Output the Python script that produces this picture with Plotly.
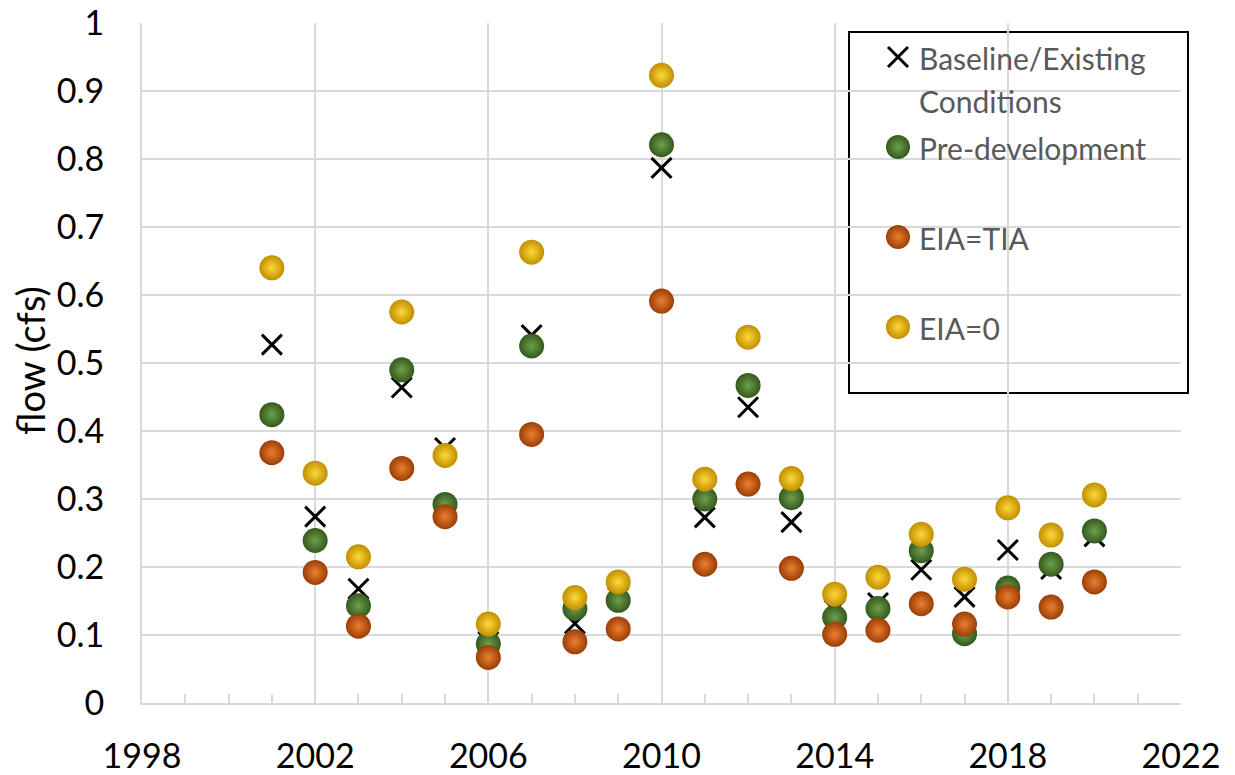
import plotly.graph_objects as go

# Annual values, 2001-2020
years = list(range(2001, 2021))

baseline = [0.527, 0.274, 0.168, 0.464, 0.375, 0.090, 0.541, 0.117, 0.155, 0.787,
            0.273, 0.435, 0.266, 0.137, 0.147, 0.196, 0.156, 0.225, 0.197, 0.245]
pre_development = [0.424, 0.239, 0.143, 0.490, 0.292, 0.087, 0.525, 0.139, 0.151, 0.821,
                   0.300, 0.467, 0.302, 0.126, 0.139, 0.224, 0.102, 0.169, 0.204, 0.253]
eia_tia = [0.368, 0.192, 0.113, 0.345, 0.274, 0.067, 0.395, 0.090, 0.109, 0.591,
           0.204, 0.322, 0.198, 0.101, 0.107, 0.146, 0.116, 0.156, 0.141, 0.178]
eia_zero = [0.640, 0.338, 0.215, 0.575, 0.364, 0.116, 0.663, 0.155, 0.178, 0.923,
            0.329, 0.538, 0.330, 0.160, 0.185, 0.248, 0.182, 0.287, 0.247, 0.306]

series_names = ["Baseline/Existing<br>Conditions", "Pre-development", "EIA=TIA", "EIA=0"]
y_title = "flow (cfs)"

FONT = "Lato"
# (rim, centre) colours for the shaded sphere markers; plotly's radial
# gradient colour is the one used at the centre
SPHERES = {
    "Pre-development": ("#34591d", "#6f9f4c"),
    "EIA=TIA": ("#9a3e06", "#ec7f30"),
    "EIA=0": ("#c08f00", "#ffd83a"),
}

fig = go.Figure()

fig.add_trace(go.Scatter(
    x=years, y=baseline, mode="markers", name=series_names[0], showlegend=False,
    marker=dict(symbol="x-thin", size=20, color="black",
                line=dict(color="black", width=3)),
))
for name, vals in [("Pre-development", pre_development), ("EIA=TIA", eia_tia), ("EIA=0", eia_zero)]:
    rim, centre = SPHERES[name]
    fig.add_trace(go.Scatter(
        x=years, y=vals, mode="markers", name=name, showlegend=False,
        marker=dict(size=25, color=rim, line=dict(width=0),
                    gradient=dict(type="radial", color=centre)),
    ))

# Hand-built legend box (overlay axes in paper fractions of the plot area)
L, R, T, B = 142, 1181, 23, 703
W, H = R - L, B - T
def fx(px):
    return (px - L) / W
def fy(py):
    return (B - py) / H

sw_x = fx(898)
row_y = [57, 147, 237, 327]
fig.add_trace(go.Scatter(
    x=[sw_x], y=[fy(row_y[0])], xaxis="x2", yaxis="y2", mode="markers",
    showlegend=False, hoverinfo="skip",
    marker=dict(symbol="x-thin", size=20, color="black", line=dict(color="black", width=3)),
))
for i, name in enumerate(series_names[1:], start=1):
    rim, centre = SPHERES[name]
    fig.add_trace(go.Scatter(
        x=[sw_x], y=[fy(row_y[i])], xaxis="x2", yaxis="y2", mode="markers",
        showlegend=False, hoverinfo="skip",
        marker=dict(size=24, color=rim, line=dict(width=0),
                    gradient=dict(type="radial", color=centre)),
    ))

annotations = []
text_x = fx(917)
first, second = series_names[0].split("<br>")
line_rows = [(first, 57), (second, 100)]
line_rows += [(series_names[i], row_y[i]) for i in range(1, 4)]
for txt, py in line_rows:
    annotations.append(dict(
        x=text_x, y=fy(py + 1), xref="paper", yref="paper", text=txt, showarrow=False,
        xanchor="left", yanchor="middle",
        font=dict(family=FONT, size=30, color="#595959"),
    ))
# Rotated axis caption
annotations.append(dict(
    x=fx(30), y=fy(361), xref="paper", yref="paper", text=y_title, showarrow=False,
    textangle=-90, xanchor="center", yanchor="middle",
    font=dict(family=FONT, size=38, color="black"),
))

shapes = [dict(
    type="rect", xref="paper", yref="paper", layer="between",
    x0=fx(849), x1=fx(1188), y0=fy(393), y1=fy(32),
    line=dict(color="black", width=2), fillcolor="white",
)]

grid = "#d9d9d9"
fig.update_layout(
    width=1235, height=775,
    margin=dict(l=L, r=1235 - R, t=T, b=775 - B, autoexpand=False),
    paper_bgcolor="white", plot_bgcolor="white",
    font=dict(family=FONT, color="black"),
    annotations=annotations, shapes=shapes,
    xaxis=dict(
        range=[1998, 2022], tick0=1998, dtick=4, showgrid=True, gridcolor=grid, gridwidth=2,
        showline=True, linecolor=grid, linewidth=2, zeroline=False,
        ticks="inside", ticklen=12, tickcolor=grid, tickwidth=2,
        minor=dict(dtick=1, ticks="inside", ticklen=9, tickcolor=grid, tickwidth=1.5, showgrid=False),
        tickfont=dict(family=FONT, size=34, color="black"), ticklabelstandoff=22,
        fixedrange=True,
    ),
    yaxis=dict(
        range=[0, 1], dtick=0.1, showgrid=True, gridcolor=grid, gridwidth=2,
        showline=True, linecolor=grid, linewidth=2, zeroline=False, ticks="",
        tickfont=dict(family=FONT, size=34, color="black"), ticklabelstandoff=29,
        fixedrange=True,
    ),
    xaxis2=dict(overlaying="x", range=[0, 1], visible=False, fixedrange=True),
    yaxis2=dict(overlaying="y", range=[0, 1], visible=False, fixedrange=True),
)

fig.write_html("out.html")
